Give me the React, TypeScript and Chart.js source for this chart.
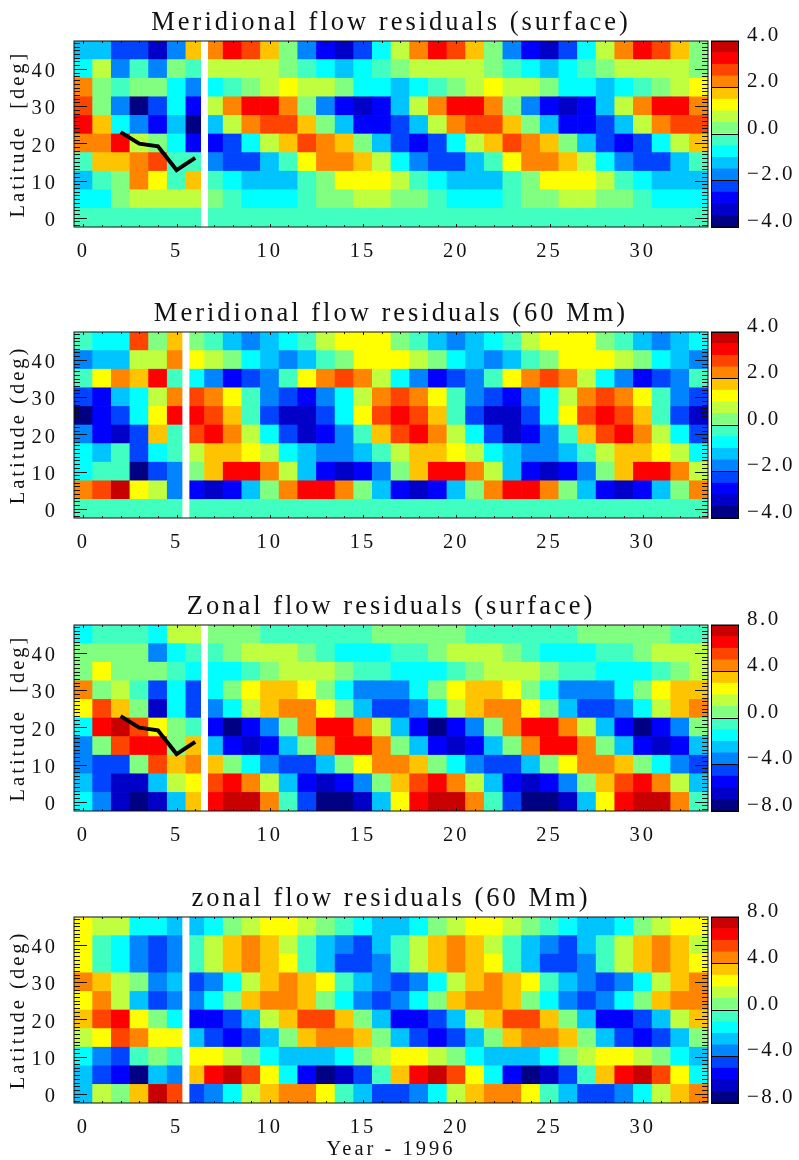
import React, { useEffect, useRef } from "react";
import { Chart, registerables } from "chart.js";

Chart.register(...registerables);

const FONT = '"Liberation Serif", serif';
const INK = "#111111";

const latitudes = [0, 5, 10, 15, 20, 25, 30, 35, 40, 45];
const yTickValues = [0, 10, 20, 30, 40];
const xTickValues = [0, 5, 10, 15, 20, 25, 30];
const barTicksSmall = [-4, -2, 0, 2, 4];
const barTicksLarge = [-8, -4, 0, 4, 8];
const palette = [
  "#000084", "#0000c8", "#0000ff", "#0044ff", "#0084ff", "#00c4ff", "#00ffff", "#40ffc0",
  "#80ff80", "#c0ff40", "#ffff00", "#ffc400", "#ff8400", "#ff4400", "#ff0000", "#c80000",
];

const cycleYears = [2, 3, 4, 5, 6];
const cycleLatitudes = [23, 19.9, 19.2, 12.8, 16.1];

// Meridional flow residuals (surface)
const msLat45 = [-1.2,-1.2,-2.2,-2.2,-3.2,-1.8,1.8,2.2,3.2,2.8,1.8,0.2,-1.8,-2.8,-3.2,-2.2,-0.8,0.8,2.2,3.2,2.8,1.8,0.2,-1.8,-2.8,-3.2,-2.2,-0.8,0.8,2.2,3.2,2.8,1.8,0.2];
const msLat40 = [-0.8,0.8,-1.8,-0.2,-1.8,0.2,-0.2,0.8,0.8,0.8,0.8,0.2,-0.2,-0.8,-1.2,-0.8,-0.2,0.2,0.8,0.8,0.8,0.8,0.2,-0.2,-0.8,-1.2,-0.8,-0.2,0.2,0.8,0.8,0.8,0.8,0.2];
const msLat35 = [2.2,0.2,-0.2,0.2,0.2,-0.8,-1.8,-0.8,-0.2,0.2,0.8,1.2,0.8,0.8,0.2,-0.8,-0.8,-1.2,-0.8,-0.2,0.2,0.8,1.2,0.8,0.8,0.2,-0.8,-0.8,-1.2,-0.8,-0.2,0.2,0.8,1.2];
const msLat30 = [2.8,0.2,-1.8,-3.8,-2.2,-0.8,-2.8,0.8,2.2,3.2,3.2,2.2,0.2,-1.8,-2.8,-3.2,-2.8,-1.2,0.8,2.2,3.2,3.2,2.2,0.2,-1.8,-2.8,-3.2,-2.8,-1.2,0.8,2.2,3.2,3.2,2.2];
const msLat25 = [3.2,1.8,-0.8,-1.8,-2.8,-1.2,-3.8,-1.2,0.8,2.2,2.8,2.8,1.8,0.2,-1.2,-2.8,-2.8,-2.2,-1.2,0.8,2.2,2.8,2.8,1.8,0.2,-1.2,-2.8,-2.8,-2.2,-1.2,0.8,2.2,2.8,2.8];
const msLat20 = [2.2,2.2,3.2,0.8,0.2,-0.8,-2.8,-2.8,-2.2,-0.8,0.8,1.8,2.8,2.2,1.8,0.2,-1.2,-2.2,-2.8,-2.2,-0.8,0.8,1.8,2.8,2.2,1.8,0.2,-1.2,-2.2,-2.8,-2.2,-0.8,0.8,1.8];
const msLat15 = [-0.2,1.8,1.8,2.2,2.8,-0.2,-0.2,-1.8,-2.2,-2.2,-1.2,-0.2,1.2,2.2,2.2,1.8,0.8,-0.8,-1.8,-2.2,-2.2,-1.2,-0.2,1.2,2.2,2.2,1.8,0.8,-0.8,-1.8,-2.2,-2.2,-1.2,-0.2];
const msLat10 = [-1.2,-0.2,0.2,2.2,1.2,-0.2,1.8,-0.2,-0.8,-1.2,-1.2,-1.2,-0.2,0.2,1.2,1.2,1.2,0.8,-0.2,-0.8,-1.2,-1.2,-1.2,-0.2,0.2,1.2,1.2,1.2,0.8,-0.2,-0.8,-1.2,-1.2,-1.2];
const msLat5 = [-0.8,-0.8,0.2,0.8,0.8,0.8,0.8,0.2,-0.2,-0.8,-0.8,-0.8,-0.2,0.2,0.2,0.8,0.8,0.2,0.2,-0.2,-0.8,-0.8,-0.8,-0.2,0.2,0.2,0.8,0.8,0.2,0.2,-0.2,-0.8,-0.8,-0.8];
const msLat0 = [-0.2,-0.2,-0.2,-0.2,-0.2,-0.2,-0.2,-0.2,-0.2,-0.2,-0.2,-0.2,-0.2,-0.2,-0.2,-0.2,-0.2,-0.2,-0.2,-0.2,-0.2,-0.2,-0.2,-0.2,-0.2,-0.2,-0.2,-0.2,-0.2,-0.2,-0.2,-0.2,-0.2,-0.2];

// Meridional flow residuals (60 Mm)
const mdLat45 = [-0.2,-0.8,-0.8,2.8,0.2,1.8,0.2,-0.2,-1.2,-1.8,-1.2,-0.8,-0.2,0.8,1.2,1.2,1.2,0.2,-0.2,-1.2,-1.8,-1.2,-0.8,-0.2,0.8,1.2,1.2,1.2,0.2,-0.2,-1.2,-1.8,-1.2,-0.8];
const mdLat40 = [-1.8,-1.2,-1.2,0.8,0.8,2.2,1.2,0.8,0.2,-0.8,-1.2,-1.8,-1.2,-0.2,0.2,1.2,1.2,1.2,0.8,0.2,-0.8,-1.2,-1.8,-1.2,-0.2,0.2,1.2,1.2,1.2,0.8,0.2,-0.8,-1.2,-1.8];
const mdLat35 = [-0.2,1.2,2.2,1.8,3.2,-0.2,-0.8,-1.8,-2.8,-2.2,-1.8,-0.2,1.2,2.2,2.8,2.2,0.8,-0.8,-1.8,-2.8,-2.2,-1.8,-0.2,1.2,2.2,2.8,2.2,0.8,-0.8,-1.8,-2.8,-2.2,-1.8,-0.2];
const mdLat30 = [-2.2,-2.8,-1.2,-0.8,0.8,2.2,2.8,2.2,1.2,-0.2,-1.8,-2.2,-2.8,-1.8,-0.8,0.8,2.2,2.8,2.2,1.2,-0.2,-1.8,-2.2,-2.8,-1.8,-0.8,0.8,2.2,2.8,2.2,1.2,-0.2,-1.8,-2.2];
const mdLat25 = [-3.8,-2.8,-2.2,-0.8,1.2,3.2,3.2,2.8,1.8,-0.2,-2.2,-3.2,-3.2,-2.2,-0.8,1.2,2.8,3.2,2.8,1.8,-0.2,-2.2,-3.2,-3.2,-2.2,-0.8,1.2,2.8,3.2,2.8,1.8,-0.2,-2.2,-3.2];
const mdLat20 = [-1.8,-2.8,-3.2,-2.2,1.8,-0.2,2.8,3.2,2.2,0.8,-0.8,-2.2,-3.2,-2.8,-1.8,-0.2,1.8,2.8,3.2,2.2,0.8,-0.8,-2.2,-3.2,-2.8,-1.8,-0.2,1.8,2.8,3.2,2.2,0.8,-0.8,-2.2];
const mdLat15 = [-0.8,-1.2,-0.2,-2.2,-0.8,-0.2,0.8,1.8,1.8,1.2,0.8,-0.8,-1.2,-1.8,-1.8,-1.2,-0.2,0.8,1.8,1.8,1.2,0.8,-0.8,-1.2,-1.8,-1.8,-1.2,-0.2,0.8,1.8,1.8,1.2,0.8,-0.8];
const mdLat10 = [-0.8,-0.2,-0.2,-3.8,-2.2,-1.8,0.2,1.8,3.2,3.2,2.2,0.8,-1.2,-2.8,-3.2,-2.8,-1.8,0.2,1.8,3.2,3.2,2.2,0.8,-1.2,-2.8,-3.2,-2.8,-1.8,0.2,1.8,3.2,3.2,2.2,0.8];
const mdLat5 = [2.2,2.8,3.8,1.2,0.8,-1.8,-2.8,-3.2,-2.8,-1.2,0.2,2.2,3.2,3.2,2.2,0.2,-1.2,-2.8,-3.2,-2.8,-1.2,0.2,2.2,3.2,3.2,2.2,0.2,-1.2,-2.8,-3.2,-2.8,-1.2,0.2,2.2];
const mdLat0 = [-0.2,-0.2,-0.2,-0.2,-0.2,-0.2,-0.2,-0.2,-0.2,-0.2,-0.2,-0.2,-0.2,-0.2,-0.2,-0.2,-0.2,-0.2,-0.2,-0.2,-0.2,-0.2,-0.2,-0.2,-0.2,-0.2,-0.2,-0.2,-0.2,-0.2,-0.2,-0.2,-0.2,-0.2];

// Zonal flow residuals (surface)
const zsLat45 = [-1.5,-0.5,-0.5,-0.5,-1.5,1.5,1.5,0.5,0.5,0.5,-0.5,-0.5,-0.5,-0.5,-0.5,-0.5,0.5,0.5,0.5,0.5,0.5,-0.5,-0.5,-0.5,-0.5,-0.5,-0.5,0.5,0.5,0.5,0.5,0.5,-0.5,-0.5];
const zsLat40 = [0.5,0.5,0.5,0.5,-3.5,-1.5,-0.5,-0.5,0.5,1.5,1.5,1.5,0.5,-0.5,-1.5,-1.5,-1.5,-0.5,-0.5,0.5,1.5,1.5,1.5,0.5,-0.5,-1.5,-1.5,-1.5,-0.5,-0.5,0.5,1.5,1.5,1.5];
const zsLat35 = [0.5,2.5,0.5,0.5,0.5,-0.5,-1.5,-1.5,-1.5,-0.5,0.5,1.5,1.5,1.5,0.5,-0.5,-0.5,-1.5,-1.5,-1.5,-0.5,0.5,1.5,1.5,1.5,0.5,-0.5,-0.5,-1.5,-1.5,-1.5,-0.5,0.5,1.5];
const zsLat30 = [4.5,0.5,1.5,-0.5,-4.5,-1.5,-4.5,-1.5,0.5,2.5,3.5,3.5,2.5,0.5,-1.5,-3.5,-3.5,-3.5,-1.5,0.5,2.5,3.5,3.5,2.5,0.5,-1.5,-3.5,-3.5,-3.5,-1.5,0.5,2.5,3.5,3.5];
const zsLat25 = [2.5,5.5,3.5,0.5,-6.5,-1.5,-4.5,-3.5,-1.5,1.5,3.5,4.5,4.5,2.5,0.5,-2.5,-4.5,-4.5,-3.5,-1.5,1.5,3.5,4.5,4.5,2.5,0.5,-2.5,-4.5,-4.5,-3.5,-1.5,1.5,3.5,4.5];
const zsLat20 = [-1.5,6.5,7.5,5.5,2.5,0.5,-0.5,-5.5,-7.5,-5.5,-3.5,0.5,4.5,6.5,6.5,4.5,1.5,-2.5,-5.5,-7.5,-5.5,-3.5,0.5,4.5,6.5,6.5,4.5,1.5,-2.5,-5.5,-7.5,-5.5,-3.5,0.5];
const zsLat15 = [-3.5,0.5,5.5,6.5,6.5,0.5,3.5,-2.5,-5.5,-6.5,-5.5,-2.5,0.5,4.5,6.5,6.5,4.5,0.5,-2.5,-5.5,-6.5,-5.5,-2.5,0.5,4.5,6.5,6.5,4.5,0.5,-2.5,-5.5,-6.5,-5.5,-2.5];
const zsLat10 = [-3.5,-4.5,-4.5,0.5,5.5,3.5,4.5,3.5,0.5,-1.5,-3.5,-4.5,-4.5,-2.5,0.5,2.5,4.5,4.5,3.5,0.5,-1.5,-3.5,-4.5,-4.5,-2.5,0.5,2.5,4.5,4.5,3.5,0.5,-1.5,-3.5,-4.5];
const zsLat5 = [-2.5,-4.5,-6.5,-6.5,-2.5,1.5,2.5,5.5,6.5,4.5,1.5,-2.5,-5.5,-6.5,-5.5,-3.5,0.5,3.5,5.5,6.5,4.5,1.5,-2.5,-5.5,-6.5,-5.5,-3.5,0.5,3.5,5.5,6.5,4.5,1.5,-2.5];
const zsLat0 = [-1.5,-3.5,-6.5,-7.5,-6.5,-2.5,3.5,6.5,7.5,7.5,4.5,-0.5,-4.5,-7.5,-7.5,-6.5,-2.5,2.5,6.5,7.5,7.5,4.5,-0.5,-4.5,-7.5,-7.5,-6.5,-2.5,2.5,6.5,7.5,7.5,4.5,-0.5];

// zonal flow residuals (60 Mm)
const zdLat45 = [2.5,1.5,1.5,-1.5,-1.5,-2.5,-2.5,-1.5,0.5,1.5,2.5,2.5,1.5,0.5,-0.5,-1.5,-2.5,-2.5,-1.5,0.5,1.5,2.5,2.5,1.5,0.5,-0.5,-1.5,-2.5,-2.5,-1.5,0.5,1.5,2.5,2.5];
const zdLat40 = [2.5,-0.5,-1.5,-3.5,-4.5,-3.5,-0.5,1.5,3.5,4.5,3.5,1.5,-0.5,-2.5,-3.5,-4.5,-2.5,-0.5,1.5,3.5,4.5,3.5,1.5,-0.5,-2.5,-3.5,-4.5,-2.5,-0.5,1.5,3.5,4.5,3.5,1.5];
const zdLat35 = [2.5,-0.5,-1.5,-3.5,-4.5,-3.5,-0.5,1.5,3.5,4.5,3.5,2.5,-0.5,-2.5,-4.5,-4.5,-3.5,-0.5,1.5,3.5,4.5,3.5,2.5,-0.5,-2.5,-4.5,-4.5,-3.5,-0.5,1.5,3.5,4.5,3.5,2.5];
const zdLat30 = [4.5,3.5,1.5,0.5,-3.5,-2.5,-4.5,-3.5,-1.5,1.5,3.5,4.5,3.5,2.5,-0.5,-2.5,-3.5,-4.5,-3.5,-1.5,1.5,3.5,4.5,3.5,2.5,-0.5,-2.5,-3.5,-4.5,-3.5,-1.5,1.5,3.5,4.5];
const zdLat25 = [2.5,4.5,1.5,-2.5,-4.5,-3.5,-3.5,-1.5,0.5,3.5,4.5,4.5,3.5,0.5,-1.5,-3.5,-4.5,-3.5,-1.5,0.5,3.5,4.5,4.5,3.5,0.5,-1.5,-3.5,-4.5,-3.5,-1.5,0.5,3.5,4.5,4.5];
const zdLat20 = [3.5,5.5,6.5,2.5,0.5,-1.5,-5.5,-5.5,-4.5,-2.5,1.5,3.5,5.5,5.5,3.5,0.5,-2.5,-5.5,-5.5,-4.5,-2.5,1.5,3.5,5.5,5.5,3.5,0.5,-2.5,-5.5,-5.5,-4.5,-2.5,1.5,3.5];
const zdLat15 = [1.5,2.5,5.5,4.5,2.5,2.5,-2.5,-4.5,-5.5,-4.5,-2.5,0.5,3.5,4.5,4.5,3.5,0.5,-2.5,-4.5,-5.5,-4.5,-2.5,0.5,3.5,4.5,4.5,3.5,0.5,-2.5,-4.5,-5.5,-4.5,-2.5,0.5];
const zdLat10 = [-1.5,-3.5,-4.5,-0.5,0.5,-0.5,2.5,2.5,1.5,0.5,-1.5,-2.5,-2.5,-2.5,-1.5,0.5,1.5,2.5,2.5,1.5,0.5,-1.5,-2.5,-2.5,-2.5,-1.5,0.5,1.5,2.5,2.5,1.5,0.5,-1.5,-2.5];
const zdLat5 = [-2.5,-4.5,-5.5,-7.5,-2.5,-3.5,3.5,6.5,7.5,5.5,2.5,-1.5,-5.5,-7.5,-6.5,-4.5,-0.5,3.5,6.5,7.5,5.5,2.5,-1.5,-5.5,-7.5,-6.5,-4.5,-0.5,3.5,6.5,7.5,5.5,2.5,-1.5];
const zdLat0 = [-2.5,1.5,0.5,3.5,7.5,5.5,-4.5,-3.5,-1.5,1.5,3.5,4.5,4.5,2.5,-0.5,-2.5,-4.5,-4.5,-3.5,-1.5,1.5,3.5,4.5,4.5,2.5,-0.5,-2.5,-4.5,-4.5,-3.5,-1.5,1.5,3.5,4.5];

const msRows = [msLat0, msLat5, msLat10, msLat15, msLat20, msLat25, msLat30, msLat35, msLat40, msLat45];
const mdRows = [mdLat0, mdLat5, mdLat10, mdLat15, mdLat20, mdLat25, mdLat30, mdLat35, mdLat40, mdLat45];
const zsRows = [zsLat0, zsLat5, zsLat10, zsLat15, zsLat20, zsLat25, zsLat30, zsLat35, zsLat40, zsLat45];
const zdRows = [zdLat0, zdLat5, zdLat10, zdLat15, zdLat20, zdLat25, zdLat30, zdLat35, zdLat40, zdLat45];

function colorOf(v: number, limit: number) {
  const idx = Math.floor(((v + limit) / (2 * limit)) * palette.length);
  return palette[Math.max(0, Math.min(palette.length - 1, idx))];
}

const spacing = (px: string) => ({
  id: "spacing",
  beforeDraw(chart: any) {
    chart.ctx.letterSpacing = px;
  },
});

const idlFrame = {
  id: "idlFrame",
  afterDraw(chart: any) {
    const { ctx, chartArea: a, scales } = chart;
    ctx.save();
    ctx.strokeStyle = INK;
    ctx.lineWidth = 1;
    const line = (x1: number, y1: number, x2: number, y2: number) => {
      ctx.beginPath();
      ctx.moveTo(x1, y1);
      ctx.lineTo(x2, y2);
      ctx.stroke();
    };
    for (let year = 0; year <= 33; year++) {
      const x = Math.round(scales.x.getPixelForValue(year)) + 0.5;
      const len = year % 5 === 0 ? 3 : 2;
      line(x, a.bottom, x, a.bottom - len);
      line(x, a.top, x, a.top + len);
    }
    for (let lat = -2; lat <= 47; lat++) {
      const y = Math.round(scales.y.getPixelForValue(lat)) + 0.5;
      const len = lat % 10 === 0 ? 13 : 6;
      line(a.left, y, a.left + len, y);
      line(a.right, y, a.right - len, y);
    }
    ctx.strokeRect(a.left, a.top, a.right - a.left, a.bottom - a.top);
    ctx.restore();
  },
};

const barFrame = {
  id: "barFrame",
  afterDraw(chart: any) {
    const { ctx, chartArea: a } = chart;
    ctx.save();
    ctx.strokeStyle = "#000";
    ctx.lineWidth = 1;
    ctx.strokeRect(a.left + 0.5, a.top, a.right - a.left - 1, a.bottom - a.top);
    ctx.restore();
  },
};

type PanelProps = {
  top: number;
  title: string;
  yTitle: string;
  rows: number[][];
  limit: number;
  gapYear: number;
  showCycle: boolean;
  xTitle?: string;
};

const PLOT_TOP = 41;
const PLOT_H = 186;

function Panel({ top, title, yTitle, rows, limit, gapYear, showCycle, xTitle }: PanelProps) {
  const ref = useRef<HTMLCanvasElement | null>(null);
  const xHeight = xTitle ? 57 : 37;
  const height = PLOT_TOP + PLOT_H + xHeight;
  useEffect(() => {
    const datasets: any[] = [];
    if (showCycle) {
      datasets.push({
        type: "line",
        data: cycleYears.map((x, i) => ({ x, y: cycleLatitudes[i] })),
        borderColor: "#000",
        borderWidth: 4,
        pointRadius: 0,
        tension: 0,
        order: 0,
      });
    }
    datasets.push({
      type: "line",
      data: [
        { x: gapYear, y: -2.5 },
        { x: gapYear, y: 47.5 },
      ],
      borderColor: "#ffffff",
      borderWidth: 7,
      pointRadius: 0,
      order: 1,
    });
    rows.forEach((values, r) => {
      datasets.push({
        type: "bar",
        data: values.map((_v, x) => ({ x, y: [latitudes[r] - 2.5, latitudes[r] + 2.5] })),
        backgroundColor: values.map((v) => colorOf(v, limit)),
        barPercentage: 1,
        categoryPercentage: 1,
        grouped: false,
        order: 2,
      });
    });
    const chart = new Chart(ref.current as HTMLCanvasElement, {
      type: "bar",
      data: { datasets },
      options: {
        animation: false,
        responsive: false,
        events: [],
        layout: { padding: { right: 1 } },
        plugins: {
          legend: { display: false },
          tooltip: { enabled: false },
          title: {
            display: true,
            text: title,
            fullSize: false,
            color: INK,
            font: { family: FONT, size: 26.5, weight: "normal", lineHeight: 1.2 },
            padding: { top: 7.5, bottom: 1.7 },
          },
        },
        scales: {
          x: {
            type: "linear",
            min: -0.5,
            max: 33.5,
            offset: false,
            grid: { display: false },
            border: { display: false },
            afterBuildTicks: (s: any) => {
              s.ticks = xTickValues.map((value) => ({ value }));
            },
            afterFit: (s: any) => {
              s.height = xHeight;
            },
            ticks: {
              autoSkip: false,
              maxRotation: 0,
              padding: 4,
              color: INK,
              font: { family: FONT, size: 20.5 },
              callback: (v: any) => String(v),
            },
            title: xTitle
              ? {
                  display: true,
                  text: xTitle,
                  color: INK,
                  font: { family: FONT, size: 20.5, lineHeight: 1 },
                  padding: { top: 0, bottom: 0 },
                }
              : { display: false },
          },
          y: {
            type: "linear",
            min: -2.5,
            max: 47.5,
            grid: { display: false },
            border: { display: false },
            afterBuildTicks: (s: any) => {
              s.ticks = yTickValues.map((value) => ({ value }));
            },
            afterFit: (s: any) => {
              s.width = 74;
            },
            ticks: {
              autoSkip: false,
              padding: 8,
              labelOffset: 3,
              color: INK,
              font: { family: FONT, size: 20.5 },
              callback: (v: any) => String(v),
            },
            title: {
              display: true,
              text: yTitle,
              color: INK,
              font: { family: FONT, size: 20.5, lineHeight: 1.2 },
              padding: { top: 6, bottom: 0 },
            },
          },
        },
      } as any,
      plugins: [spacing("3px"), idlFrame],
    });
    return () => chart.destroy();
  }, []);
  return (
    <canvas
      ref={ref}
      width={709}
      height={height}
      style={{ position: "absolute", left: 0, top, width: 709, height }}
    />
  );
}

function ColorBar({ top, limit, ticks }: { top: number; limit: number; ticks: number[] }) {
  const ref = useRef<HTMLCanvasElement | null>(null);
  const height = PLOT_TOP + PLOT_H + 14;
  useEffect(() => {
    const step = (2 * limit) / palette.length;
    const datasets = palette.map((c, i) => ({
      data: [{ x: "", y: [-limit + i * step, -limit + (i + 1) * step] }],
      backgroundColor: c,
      barPercentage: 1,
      categoryPercentage: 1,
      grouped: false,
    }));
    const chart = new Chart(ref.current as HTMLCanvasElement, {
      type: "bar",
      data: { labels: [""], datasets },
      options: {
        animation: false,
        responsive: false,
        events: [],
        layout: { padding: { top: PLOT_TOP, bottom: 14 } },
        plugins: { legend: { display: false }, tooltip: { enabled: false } },
        scales: {
          x: { type: "category", display: false, offset: true },
          y: {
            type: "linear",
            position: "right",
            min: -limit,
            max: limit,
            grid: { color: "#000", lineWidth: 1, drawTicks: false, z: 1 },
            border: { display: false },
            afterBuildTicks: (s: any) => {
              s.ticks = ticks.map((value) => ({ value }));
            },
            afterFit: (s: any) => {
              s.width = 60;
              s.paddingTop = 0;
              s.paddingBottom = 0;
            },
            ticks: {
              autoSkip: false,
              padding: 8,
              labelOffset: -6,
              color: INK,
              font: { family: FONT, size: 21 },
              callback: (v: any) => `${v < 0 ? "\u2212" : ""}${Math.abs(v).toFixed(1)}`,
            },
          },
        },
      } as any,
      plugins: [spacing("2.5px"), barFrame],
    });
    return () => chart.destroy();
  }, []);
  return (
    <canvas
      ref={ref}
      width={88}
      height={height}
      style={{ position: "absolute", left: 711, top, width: 88, height }}
    />
  );
}

export default function App() {
  return (
    <div
      style={{
        position: "absolute",
        left: 0,
        top: 0,
        width: 799,
        height: 1160,
        background: "#fff",
        overflow: "hidden",
      }}
    >
      <Panel top={0} title="Meridional flow residuals (surface)" yTitle="Latitude  [deg]" rows={msRows} limit={4} gapYear={6.5} showCycle />
      <ColorBar top={0} limit={4} ticks={barTicksSmall} />
      <Panel top={291} title="Meridional flow residuals (60 Mm)" yTitle="Latitude (deg)" rows={mdRows} limit={4} gapYear={5.5} showCycle={false} />
      <ColorBar top={291} limit={4} ticks={barTicksSmall} />
      <Panel top={584} title="Zonal flow residuals (surface)" yTitle="Latitude  [deg]" rows={zsRows} limit={8} gapYear={6.5} showCycle />
      <ColorBar top={584} limit={8} ticks={barTicksLarge} />
      <Panel top={876} title="zonal flow residuals (60 Mm)" yTitle="Latitude (deg)" rows={zdRows} limit={8} gapYear={5.5} showCycle={false} xTitle="Year - 1996" />
      <ColorBar top={876} limit={8} ticks={barTicksLarge} />
    </div>
  );
}
